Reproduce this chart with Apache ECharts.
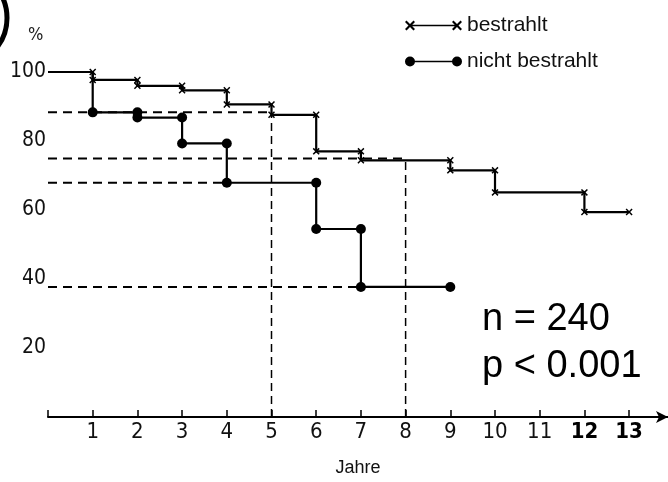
<!DOCTYPE html>
<html>
<head>
<meta charset="utf-8">
<script src="https://cdn.jsdelivr.net/npm/echarts@6/dist/echarts.min.js"></script>
<style>
html,body{margin:0;padding:0;background:#fff;}
#c{width:668px;height:482px;}
</style>
</head>
<body>
<div id="c"></div>
<script>
// ---- data ----
const yearsIrr = [0, 1, 2, 3, 4, 5, 6, 7, 9, 10, 12, 13];
const survIrr  = [100, 97.7, 96.0, 94.7, 90.6, 87.6, 77.0, 74.4, 71.5, 65.1, 59.4, 59.4];
const yearsNon = [0, 1, 2, 3, 4, 6, 7, 9];
const survNon  = [100, 88.3, 86.8, 79.3, 67.9, 54.5, 37.7, 37.7];
const refHValue = [88.3, 74.9, 67.9, 37.7];
const refHEnd   = [5, 8, 4, 7];
const refVYear  = [5, 8];
const refVTop   = [88.3, 74.9];
const xTicks = [1, 2, 3, 4, 5, 6, 7, 8, 9, 10, 11, 12, 13];
const yTicks = [20, 40, 60, 80, 100];
const seriesNames = ['bestrahlt', 'nicht bestrahlt'];
const noteLines = ['n = 240', 'p < 0.001'];

const NARROW = '"Liberation Sans Narrow","DejaVu Sans Condensed","Liberation Sans",Arial,sans-serif';
const SANS = '"Liberation Sans",Arial,Helvetica,sans-serif';

const crossPath = 'path://M0,1.5 L1.5,0 L5,3.5 L8.5,0 L10,1.5 L6.5,5 L10,8.5 L8.5,10 L5,6.5 L1.5,10 L0,8.5 L3.5,5 Z';
const legendCross = 'path://M0,1.5 L1.5,0 L5,3.5 L8.5,0 L10,1.5 L6.5,5 L10,8.5 L8.5,10 L5,6.5 L1.5,10 L0,8.5 L3.5,5 Z ' +
  'M47,1.5 L48.5,0 L52,3.5 L55.5,0 L57,1.5 L53.5,5 L57,8.5 L55.5,10 L52,6.5 L48.5,10 L47,8.5 L50.5,5 Z ' +
  'M5,4.2 L52,4.2 L52,5.8 L5,5.8 Z';
const legendDot = 'path://M0,5 A5,5 0 1 1 10,5 A5,5 0 1 1 0,5 Z M47,5 A5,5 0 1 1 57,5 A5,5 0 1 1 47,5 Z M5,4.2 L52,4.2 L52,5.8 L5,5.8 Z';

function stepData(xs, ys) {
  return xs.map((x, i) => i === 0 ? { value: [x, ys[i]], symbol: 'none' } : [x, ys[i]]);
}
function topCorners(xs, ys, startIdx) {
  const out = [];
  for (let i = startIdx; i < xs.length; i++) {
    if (ys[i] !== ys[i - 1]) out.push([xs[i], ys[i - 1]]);
  }
  return out;
}

const dashedSeries = [];
refHValue.forEach((v, i) => {
  dashedSeries.push({
    type: 'line', data: [[0, v], [refHEnd[i], v]], symbol: 'none', silent: true, z: 1,
    lineStyle: { color: '#000', width: 2, type: [9, 6] }
  });
});
refVYear.forEach((x, i) => {
  dashedSeries.push({
    type: 'line', data: [[x, 0], [x, refVTop[i]]], symbol: 'none', silent: true, z: 1,
    lineStyle: { color: '#000', width: 1.5, type: [8, 5] }
  });
});

const chart = echarts.init(document.getElementById('c'), null, { renderer: 'canvas' });
chart.setOption({
  animation: false,
  backgroundColor: '#fff',
  textStyle: { fontFamily: SANS, color: '#000' },
  grid: { left: 48, right: 0, top: 72, bottom: 63 },
  legend: {
    orient: 'vertical', left: 400, top: 10, itemWidth: 57, itemHeight: 10, itemGap: 15,
    textStyle: { fontFamily: SANS, fontSize: 21, color: '#111' },
    itemStyle: { color: '#000', borderWidth: 0, opacity: 1 },
    data: [
      { name: seriesNames[0], icon: legendCross },
      { name: seriesNames[1], icon: legendDot }
    ],
    selectedMode: false
  },
  xAxis: {
    type: 'value', min: 0, max: 13.87, interval: 1,
    name: 'Jahre', nameLocation: 'middle', nameGap: 42,
    nameTextStyle: { fontFamily: SANS, fontSize: 18, color: '#111' },
    axisLine: { show: true, symbol: ['none', 'arrow'], symbolSize: [9, 12], lineStyle: { color: '#000', width: 2 } },
    axisTick: { show: true, inside: true, length: 7, lineStyle: { color: '#000', width: 1.5 } },
    splitLine: { show: false },
    axisLabel: {
      margin: 4, fontFamily: NARROW, fontSize: 22, color: '#111', showMaxLabel: false,
      formatter: v => xTicks.indexOf(v) >= 0 ? (v >= 12 ? '{b|' + v + '}' : String(v)) : '',
      rich: { b: { fontFamily: NARROW, fontSize: 22, fontWeight: 'bold', color: '#000' } }
    }
  },
  yAxis: {
    type: 'value', min: 0, max: 100, interval: 20,
    axisLine: { show: false }, axisTick: { show: false }, splitLine: { show: false },
    axisLabel: {
      margin: 2, fontFamily: NARROW, fontSize: 21, color: '#111', padding: [4, 0, 0, 0],
      formatter: v => yTicks.indexOf(v) >= 0 ? String(v) : ''
    }
  },
  graphic: [
    { type: 'circle', shape: { cx: -41, cy: 18, r: 48 }, style: { fill: 'none', stroke: '#000', lineWidth: 5 }, silent: true },
    { type: 'text', x: 28, y: 35, style: { text: '%', font: '18px ' + NARROW, fill: '#222', verticalAlign: 'middle' } },
    { type: 'text', x: 482, y: 320, style: { text: noteLines[0], font: '38px ' + SANS, fill: '#000', verticalAlign: 'middle' } },
    { type: 'text', x: 482, y: 367, style: { text: noteLines[1], font: '38px ' + SANS, fill: '#000', verticalAlign: 'middle' } }
  ],
  series: dashedSeries.concat([
    {
      name: seriesNames[1], type: 'line', step: 'end', z: 3,
      data: stepData(yearsNon, survNon),
      symbol: 'circle', symbolSize: 10, showAllSymbol: true,
      itemStyle: { color: '#000', opacity: 1 }, lineStyle: { color: '#000', width: 2.2 }
    },
    {
      name: seriesNames[1], type: 'scatter', z: 3,
      data: topCorners(yearsNon, survNon, 2),
      symbol: 'circle', symbolSize: 10, itemStyle: { color: '#000', opacity: 1 }
    },
    {
      name: seriesNames[0], type: 'line', step: 'end', z: 4,
      data: stepData(yearsIrr, survIrr),
      symbol: crossPath, symbolSize: 7, showAllSymbol: true,
      itemStyle: { color: '#000', opacity: 1 }, lineStyle: { color: '#000', width: 2.2 }
    },
    {
      name: seriesNames[0], type: 'scatter', z: 4,
      data: topCorners(yearsIrr, survIrr, 1),
      symbol: crossPath, symbolSize: 7, itemStyle: { color: '#000', opacity: 1 }
    }
  ])
});
</script>
</body>
</html>
